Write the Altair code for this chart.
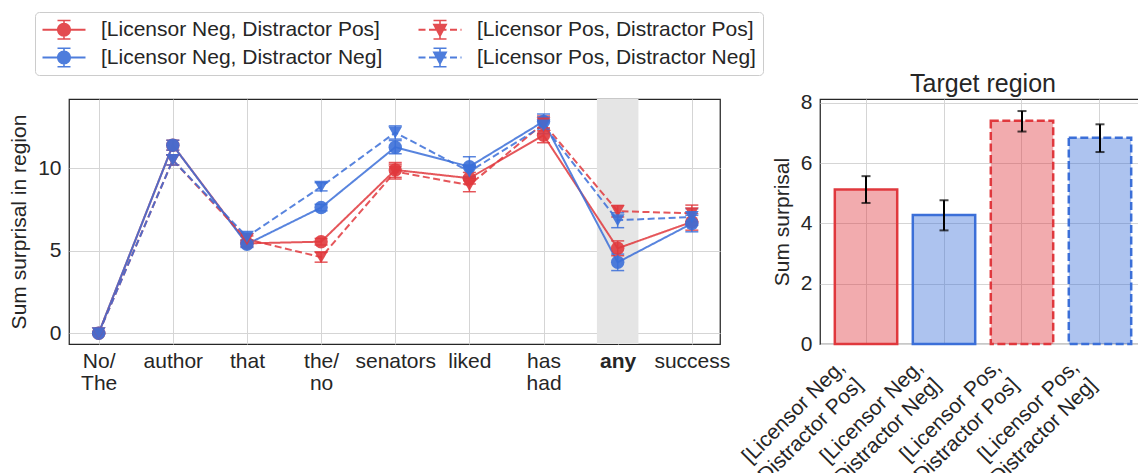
import json
import altair as alt
import pandas as pd

# ---------------- data ----------------
regions = ["No/|The", "author", "that", "the/|no", "senators", "liked", "has|had", "any", "success"]
conditions = [
    "[Licensor Neg, Distractor Pos]",
    "[Licensor Neg, Distractor Neg]",
    "[Licensor Pos, Distractor Pos]",
    "[Licensor Pos, Distractor Neg]",
]
ln_dp = [0.0, 11.4, 5.45, 5.55, 9.9, 9.4, 12.0, 5.15, 6.75]
ln_dn = [0.0, 11.4, 5.4, 7.62, 11.28, 10.1, 12.84, 4.3, 6.65]
lp_dp = [0.0, 10.5, 5.7, 4.61, 9.8, 8.98, 12.72, 7.4, 7.27]
lp_dn = [0.0, 10.5, 5.85, 8.88, 12.17, 9.8, 12.6, 6.85, 7.05]
ln_dp_err = [0.05, 0.3, 0.2, 0.2, 0.45, 0.35, 0.45, 0.45, 0.5]
ln_dn_err = [0.05, 0.3, 0.2, 0.2, 0.4, 0.6, 0.45, 0.5, 0.5]
lp_dp_err = [0.05, 0.3, 0.2, 0.3, 0.45, 0.4, 0.45, 0.35, 0.5]
lp_dn_err = [0.05, 0.3, 0.2, 0.25, 0.4, 0.4, 0.5, 0.45, 0.5]
target_index = 7
band_halfwidth = 0.28

bar_vals = [5.13, 4.28, 7.41, 6.84]
bar_lo = [4.68, 3.77, 7.05, 6.37]
bar_hi = [5.57, 4.77, 7.73, 7.29]

RED = "#e0383d"
BLUE = "#3b6fd8"
TXT = "#262626"
FONT = "Liberation Sans"
FS = 21

series = [ln_dp, ln_dn, lp_dp, lp_dn]
errs = [ln_dp_err, ln_dn_err, lp_dp_err, lp_dn_err]
rows = []
for cond, vals, es in zip(conditions, series, errs):
    for i, (v, e) in enumerate(zip(vals, es)):
        rows.append({"cond": cond, "idx": i, "val": v, "lo": v - e, "hi": v + e})
df = pd.DataFrame(rows)
band_df = pd.DataFrame({"b0": [target_index - band_halfwidth], "b1": [target_index + band_halfwidth]})
bar_df = pd.DataFrame({"cond": conditions, "bval": bar_vals, "lo": bar_lo, "hi": bar_hi})

# legend order (column-wise fill, two columns)
legend_order = conditions
legend_colors = [RED, BLUE, RED, BLUE]

# ------------- legend symbol paths (style) -------------
R = 10.0          # nominal symbol half-size in px
SYM_W = 43.0      # drawn symbol width in px
def u(px):
    return round(px / R, 4)
def rect(x0, y0, x1, y1):
    return f"M{x0},{y0}L{x1},{y0}L{x1},{y1}L{x0},{y1}Z"
x_left = -1.0
x_right = u(SYM_W) - 1.0
cx = (x_left + x_right) / 2
lt = u(1.0)
err_part = (rect(round(cx - u(0.8), 4), -u(10), round(cx + u(0.8), 4), u(10))
            + rect(round(cx - u(6.5), 4), -u(10), round(cx + u(6.5), 4), -u(8.5))
            + rect(round(cx - u(6.5), 4), u(8.5), round(cx + u(6.5), 4), u(10)))
solid_line = rect(x_left, -lt, round(x_right, 4), lt)
dash_line = ""
x = x_left
while x < x_right:
    x1 = min(x + u(7), x_right)
    dash_line += rect(round(x, 4), -lt, round(x1, 4), lt)
    x = x1 + u(3.5)
cr = u(7)
circle = (f"M{round(cx + cr, 4)},0A{cr},{cr} 0 1 1 {round(cx - cr, 4)},0"
          f"A{cr},{cr} 0 1 1 {round(cx + cr, 4)},0Z")
tri = (f"M{round(cx - u(7.5), 4)},{-u(6)}L{round(cx + u(7.5), 4)},{-u(6)}"
       f"L{round(cx, 4)},{u(8)}Z")
path_circle = solid_line + err_part + circle
path_tri = dash_line + err_part + tri
legend_paths = [path_circle, path_circle, path_tri, path_tri]

color_scale = alt.Scale(domain=legend_order, range=legend_colors)
dash_scale = alt.Scale(domain=conditions, range=[[1, 0], [1, 0], [7, 3.5], [7, 3.5]])

regions_js = json.dumps(regions)
x_enc = alt.X(
    "idx:Q",
    title=None,
    scale=alt.Scale(domain=[-0.4, 8.38], nice=False, zero=False),
    axis=alt.Axis(
        values=list(range(len(regions))),
        labelExpr=f"split({regions_js}[datum.value], '|')",
        labelFontWeight={"condition": {"test": f"datum.value == {target_index}", "value": "bold"}, "value": "normal"},
        labelPadding=6, labelLineHeight=22, labelBaseline="top",
        labelOverlap=False, labelFlush=False, grid=True,
    ),
)
y_scale = alt.Scale(domain=[-0.65, 14.2], nice=False, zero=False)
y_axis = alt.Axis(values=[0, 5, 10], titlePadding=8, labelPadding=8)
YT = "Sum surprisal in region"

band = alt.Chart(band_df).mark_rect(color="#e5e5e5").encode(
    x=alt.X("b0:Q", title=None, scale=alt.Scale(domain=[-0.4, 8.38], nice=False, zero=False)),
    x2="b1:Q",
)
base = alt.Chart(df)
lines = base.mark_line(strokeWidth=2, opacity=0.85).encode(
    x=x_enc,
    y=alt.Y("val:Q", title=YT, scale=y_scale, axis=y_axis),
    color=alt.Color("cond:N", scale=color_scale, legend=None),
    strokeDash=alt.StrokeDash("cond:N", scale=dash_scale, legend=None),
    detail="cond:N",
)
errbars = base.mark_errorbar(ticks=True, size=13, thickness=1.5, opacity=0.85).encode(
    x=alt.X("idx:Q", title=None),
    y=alt.Y("lo:Q", title=YT),
    y2="hi:Q",
    color=alt.Color("cond:N", scale=color_scale, legend=None),
)
pts_c = base.transform_filter("indexof(datum.cond, 'Licensor Neg') >= 0").mark_point(
    filled=True, shape="circle", size=180, opacity=0.9
).encode(
    x=alt.X("idx:Q", title=None), y=alt.Y("val:Q", title=YT),
    color=alt.Color("cond:N", scale=color_scale, legend=None),
)
pts_t = base.transform_filter("indexof(datum.cond, 'Licensor Pos') >= 0").mark_point(
    filled=True, shape="triangle-down", size=190, opacity=0.9
).encode(
    x=alt.X("idx:Q", title=None), y=alt.Y("val:Q", title=YT),
    color=alt.Color("cond:N", scale=color_scale, legend=None),
)
leg = alt.Legend(
    title=None, orient="none", legendX=-34, legendY=-87, columns=2,
    symbolSize=(2 * R) ** 2, symbolStrokeWidth=0, symbolOpacity=0.9,
    labelFontSize=FS, labelColor=TXT, labelFont=FONT, labelLimit=400,
    labelOffset=SYM_W - 2 * R + 15,
    columnPadding=35, rowPadding=6, padding=7,
    strokeColor="#cccccc", fillColor="white", cornerRadius=4,
)
legend_layer = base.transform_filter("false").mark_point(filled=True, opacity=1).encode(
    x=alt.X("idx:Q", title=None), y=alt.Y("val:Q", title=YT),
    color=alt.Color("cond:N", scale=color_scale, legend=leg),
    shape=alt.Shape("cond:N", scale=alt.Scale(domain=legend_order, range=legend_paths), legend=leg),
)
left = alt.layer(band, lines, errbars, pts_c, pts_t, legend_layer).resolve_legend(
    color="independent", shape="independent", strokeDash="independent"
).properties(width=651, height=245)

# ---------------- right chart ----------------
fill_scale = alt.Scale(domain=conditions, range=[RED, BLUE, RED, BLUE])
bar_dash = alt.Scale(domain=conditions, range=[[1, 0], [1, 0], [8, 3.5], [8, 3.5]])
bx = alt.X(
    "cond:N", title=None, sort=conditions,
    scale=alt.Scale(domain=conditions, paddingInner=0.2, paddingOuter=0.19),
    axis=alt.Axis(labelAngle=315, labelAlign="right", labelBaseline="top",
                  labelExpr="split(replace(datum.label, ', ', ',|'), '|')",
                  labelLimit=400, labelLineHeight=25, labelPadding=12, labelOffset=-32,
                  grid=True, bandPosition=0.5),
)
bars = alt.Chart(bar_df).mark_bar(fillOpacity=0.42, strokeWidth=2.5).encode(
    x=bx,
    y=alt.Y("bval:Q", title="Sum surprisal", scale=alt.Scale(domain=[0, 8.13], nice=False),
            axis=alt.Axis(values=[0, 2, 4, 6, 8], titlePadding=8, labelPadding=8)),
    fill=alt.Fill("cond:N", scale=fill_scale, legend=None),
    stroke=alt.Stroke("cond:N", scale=fill_scale, legend=None),
    strokeDash=alt.StrokeDash("cond:N", scale=bar_dash, legend=None),
)
bar_err = alt.Chart(bar_df).mark_errorbar(ticks=True, size=9, thickness=2, color="black").encode(
    x=alt.X("cond:N", title=None, sort=conditions),
    y=alt.Y("lo:Q", title="Sum surprisal"),
    y2="hi:Q",
)
right = alt.layer(bars, bar_err).properties(
    width=326, height=245,
    title=alt.TitleParams("Target region", fontSize=25, fontWeight="normal", color=TXT, font=FONT, offset=-5),
)

chart = alt.hconcat(left, right, spacing=100, bounds="flush").resolve_scale(
    color="independent", fill="independent", stroke="independent",
    strokeDash="independent", shape="independent",
).properties(
    autosize=alt.AutoSizeParams(type="none"),
    padding={"left": 69, "top": 99, "right": 1069, "bottom": 374},
).configure(font=FONT).configure_view(
    stroke=TXT, strokeWidth=1.25
).configure_axis(
    domain=False, ticks=False, gridColor="#d5d5d5", gridWidth=1,
    labelColor=TXT, titleColor=TXT, labelFontSize=FS, titleFontSize=FS,
    titleFontWeight="normal", labelFont=FONT, titleFont=FONT,
)

chart.save("out.html", embed_options={"renderer": "svg", "actions": False})
